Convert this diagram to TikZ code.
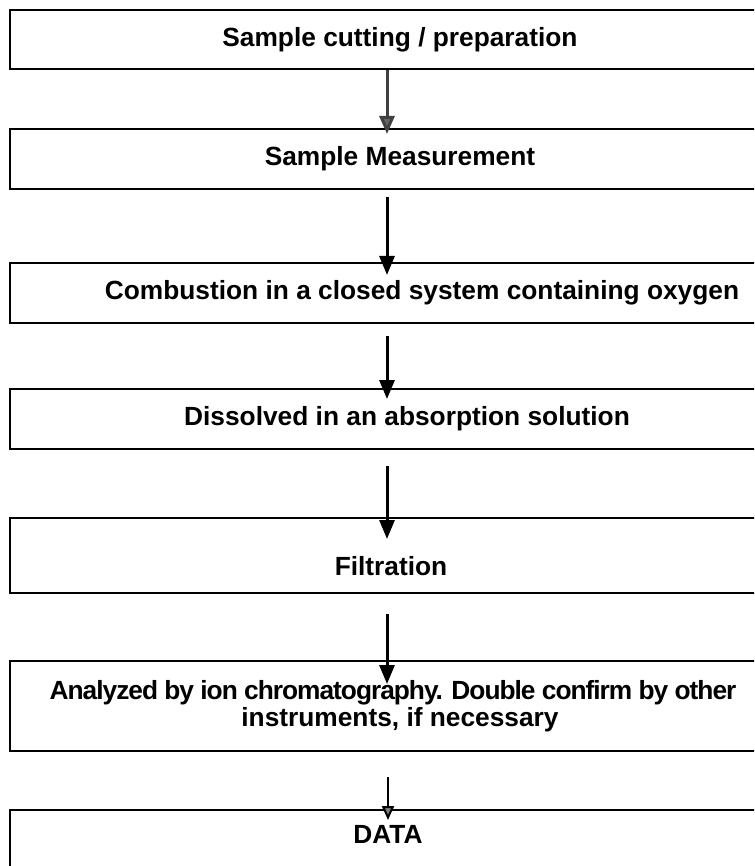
\documentclass[tikz,border=0pt]{standalone}
\usepackage{fontspec}
\setmainfont{Liberation Sans}
\usetikzlibrary{arrows.meta}
\tikzset{
  box/.style={draw=black,line width=2pt,minimum width=780pt,minimum height=#1,inner sep=0pt,align=center,font=\fontsize{26.3}{27}\selectfont\bfseries},
  box/.default=60pt,
  arr/.style={line width=3pt,-{Triangle[width=15pt,length=19pt]}},
}
\begin{document}
\begin{tikzpicture}[x=1pt,y=-1pt]
\useasboundingbox (0,0) rectangle (754,866);
\clip (0,0) rectangle (754,866);

\node[box=59pt] (cut) at (400,39.5) {Sample cutting / preparation};
\node[box] (meas) at (400,159) {Sample Measurement};
\node[box] (burn) at (400,293) {\hspace*{44pt}Combustion in a closed system containing oxygen};
\node[box] (dis) at (400,419) {\hspace*{14pt}Dissolved in an absorption solution};
\node[box=75pt,text height=41pt] (filt) at (400,555.5) {Filtration\hspace*{18pt}};
\node[box=90pt] (ion) at (400,706) {{\addfontfeature{LetterSpace=-3.8}Analyzed by ion chromatography. Double confirm by other}\hspace*{14pt}\\instruments, if necessary};
\node[box=66pt,text height=13pt,text depth=13pt] (data) at (400,843) {DATA\hspace*{24pt}};

\draw[arr,draw=black!75,-{Triangle[width=15pt,length=18pt,fill=black!60]}] ([xshift=-13pt]cut.south) -- ([xshift=-13pt,yshift=-6pt]meas.north);
\draw[arr] ([xshift=-13pt,yshift=-7pt]meas.south) -- ([xshift=-13pt,yshift=-13pt]burn.north);
\draw[arr] ([xshift=-13pt,yshift=-12pt]burn.south) -- ([xshift=-13pt,yshift=-11pt]dis.north);
\draw[arr] ([xshift=-13pt,yshift=-16pt]dis.south) -- ([xshift=-13pt,yshift=-22pt]filt.north);
\draw[arr] ([xshift=-13pt,yshift=-20pt]filt.south) -- ([xshift=-13pt,yshift=-24pt]ion.north);
\draw[arr,line width=2pt,-{Triangle[width=12pt,length=14pt,fill=black!50]}] ([xshift=-12pt,yshift=-25pt]ion.south) -- ([xshift=-12pt,yshift=-11pt]data.north);
\end{tikzpicture}
\end{document}
